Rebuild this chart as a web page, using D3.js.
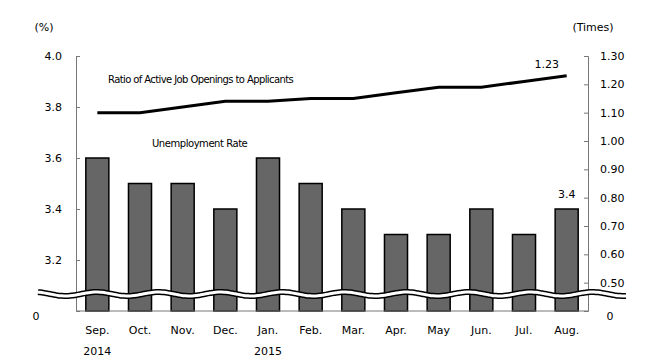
<!DOCTYPE html>
<html>
<head>
<meta charset="utf-8">
<script src="https://cdn.jsdelivr.net/npm/d3@7"></script>
<style>
body { margin: 0; background: #fff; }
text { font-family: "DejaVu Sans", sans-serif; fill: #000; }
</style>
</head>
<body>
<script>
var w = 650;
var h = 362;

var months = ["Sep.", "Oct.", "Nov.", "Dec.", "Jan.", "Feb.", "Mar.", "Apr.", "May", "Jun.", "Jul.", "Aug."];
var years = ["2014", "", "", "", "2015", "", "", "", "", "", "", ""];
var unemployment = [3.6, 3.5, 3.5, 3.4, 3.6, 3.5, 3.4, 3.3, 3.3, 3.4, 3.3, 3.4];
var ratio = [1.10, 1.10, 1.12, 1.14, 1.14, 1.15, 1.15, 1.17, 1.19, 1.19, 1.21, 1.23];
var leftTicks = [3.2, 3.4, 3.6, 3.8, 4.0];
var rightTicks = [0.5, 0.6, 0.7, 0.8, 0.9, 1.0, 1.1, 1.2, 1.3];

// plot edges (don't call it "top", that's window.top)
var plotLeft = 76, plotRight = 588, plotTop = 56, plotBottom = 311;

var svg = d3.select("body")
    .append("svg")
    .attr("width", w)
    .attr("height", h);

var xScale = d3.scaleBand()
    .domain(months)
    .range([plotLeft, plotRight])
    .paddingInner(0.46)
    .paddingOuter(0.23);

var yLeft = d3.scaleLinear()
    .domain([3.0, 4.0])
    .range([plotBottom, plotTop]);

var yRight = d3.scaleLinear()
    .domain([0.4, 1.3])
    .range([plotBottom, plotTop]);

// bars
svg.selectAll("rect.bar")
    .data(unemployment)
    .enter()
    .append("rect")
    .attr("class", "bar")
    .attr("x", function(d, i) { return xScale(months[i]); })
    .attr("y", function(d) { return yLeft(d); })
    .attr("width", xScale.bandwidth())
    .attr("height", function(d) { return plotBottom - yLeft(d); })
    .attr("fill", "#666666")
    .attr("stroke", "#000")
    .attr("stroke-width", 1.5);

// axes
var yAxisLeft = d3.axisRight(yLeft)
    .tickValues(leftTicks)
    .tickSize(4)
    .tickFormat(d3.format(".1f"));
var gl = svg.append("g")
    .attr("transform", "translate(" + plotLeft + ",0)")
    .call(yAxisLeft);
gl.selectAll("text").attr("x", -14).attr("text-anchor", "end");

var yAxisRight = d3.axisLeft(yRight)
    .tickValues(rightTicks)
    .tickSize(4)
    .tickFormat(d3.format(".2f"));
var gr = svg.append("g")
    .attr("transform", "translate(" + plotRight + ",0)")
    .call(yAxisRight);
gr.selectAll("text").attr("x", 12).attr("text-anchor", "start");

[gl, gr].forEach(function(g) {
    g.select(".domain").attr("stroke", "#777");
    g.selectAll(".tick line").attr("stroke", "#777");
    g.selectAll("text").attr("font-size", "11px").attr("font-family", "DejaVu Sans");
});

svg.append("line")
    .attr("x1", plotLeft).attr("x2", plotRight)
    .attr("y1", plotBottom).attr("y2", plotBottom)
    .attr("stroke", "#777");

// ratio line
var line = d3.line()
    .x(function(d, i) { return xScale(months[i]) + xScale.bandwidth() / 2; })
    .y(function(d) { return yRight(d); });

svg.append("path")
    .datum(ratio)
    .attr("d", line)
    .attr("fill", "none")
    .attr("stroke", "#000")
    .attr("stroke-width", 3);

// axis break wave
var wave = [];
for (var x = 38; x <= 626; x += 2) {
    wave.push([x, 294 - 2 * Math.sin((x - 81) / 62 * 2 * Math.PI)]);
}
var waveLine = d3.line().curve(d3.curveBasis);
svg.append("path").attr("d", waveLine(wave)).attr("fill", "none")
    .attr("stroke", "#000").attr("stroke-width", 6);
svg.append("path").attr("d", waveLine(wave)).attr("fill", "none")
    .attr("stroke", "#fff").attr("stroke-width", 3);

// x labels
svg.selectAll("text.month")
    .data(months)
    .enter()
    .append("text")
    .attr("class", "month")
    .attr("x", function(d) { return xScale(d) + xScale.bandwidth() / 2; })
    .attr("y", 334)
    .attr("text-anchor", "middle")
    .attr("font-size", "11px")
    .text(function(d) { return d; });

svg.selectAll("text.year")
    .data(years)
    .enter()
    .append("text")
    .attr("class", "year")
    .attr("x", function(d, i) { return xScale(months[i]) + xScale.bandwidth() / 2; })
    .attr("y", 355)
    .attr("text-anchor", "middle")
    .attr("font-size", "11px")
    .text(function(d) { return d; });

// zero labels
svg.append("text").attr("x", 36).attr("y", 320).attr("text-anchor", "middle")
    .attr("font-size", "11px").text("0");
svg.append("text").attr("x", 610).attr("y", 320).attr("text-anchor", "middle")
    .attr("font-size", "11px").text("0");

// unit labels
svg.append("text").attr("x", 44).attr("y", 31).attr("text-anchor", "middle")
    .attr("font-size", "11px").text("(%)");
svg.append("text").attr("x", 593).attr("y", 31).attr("text-anchor", "middle")
    .attr("font-size", "11px").text("(Times)");

// annotations
svg.append("text").attr("x", 108).attr("y", 83)
    .attr("font-family", "Liberation Sans Narrow, Liberation Sans, sans-serif")
    .attr("font-size", "10px").attr("letter-spacing", "-0.6px")
    .text("Ratio of Active Job Openings to Applicants");
svg.append("text").attr("x", 152).attr("y", 147)
    .attr("font-family", "Liberation Sans Narrow, Liberation Sans, sans-serif")
    .attr("font-size", "10px").attr("letter-spacing", "-0.45px")
    .text("Unemployment Rate");
svg.append("text")
    .attr("x", xScale(months[11]) + xScale.bandwidth() / 2 - 20)
    .attr("y", yRight(ratio[11]) - 8)
    .attr("text-anchor", "middle")
    .attr("font-size", "11px")
    .text(d3.format(".2f")(ratio[11]));
svg.append("text")
    .attr("x", xScale(months[11]) + xScale.bandwidth() / 2)
    .attr("y", yLeft(unemployment[11]) - 11)
    .attr("text-anchor", "middle")
    .attr("font-size", "11px")
    .text(unemployment[11]);
</script>
</body>
</html>
